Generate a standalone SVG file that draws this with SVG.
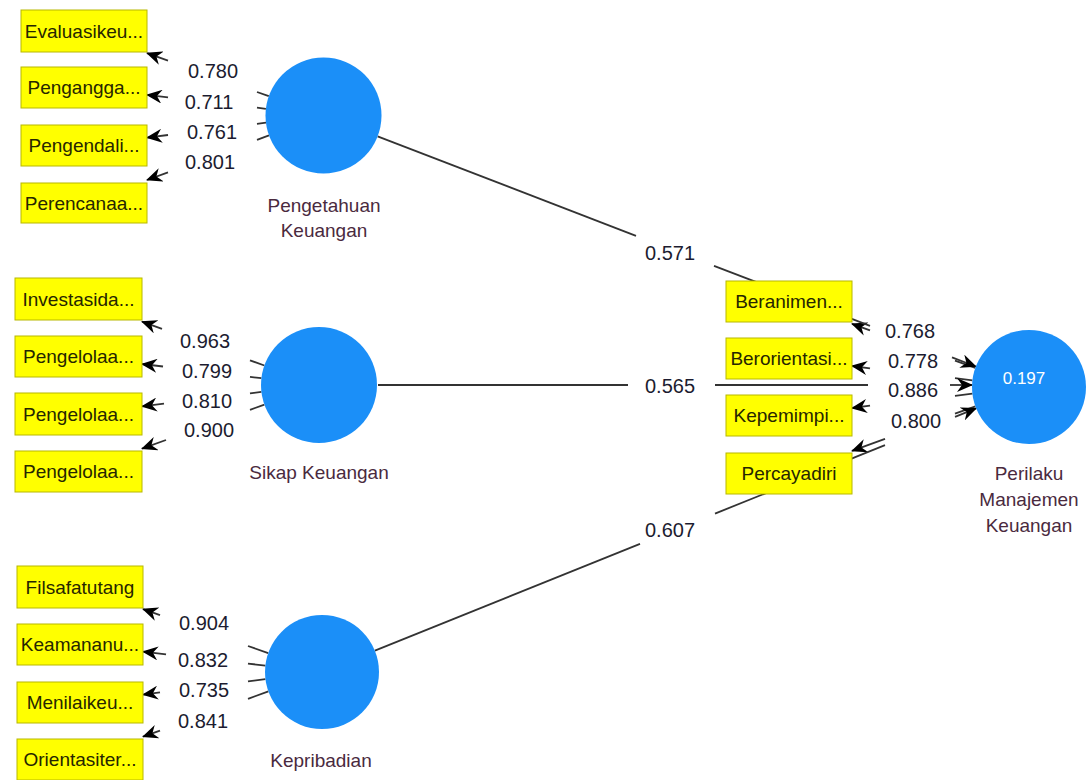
<svg xmlns="http://www.w3.org/2000/svg" width="1086" height="780" viewBox="0 0 1086 780">
<defs>
<marker id="arr" viewBox="0 0 16 14" refX="15" refY="7" markerWidth="16" markerHeight="14" markerUnits="userSpaceOnUse" orient="auto">
<path d="M0,0 L16,7 L0,14 L5,7 z" fill="#000"/>
</marker>
<style>
.ln{stroke:#333333;stroke-width:1.8;fill:none}
.ar{stroke:#333333;stroke-width:1.8;fill:none;marker-end:url(#arr)}
.box{fill:#ffff00;stroke:#b8b800;stroke-width:1}
.bt{font-family:"Liberation Sans",Arial,sans-serif;font-size:19px;fill:#262600;text-anchor:middle}
.lv{fill:#1b8ff8}
.lt{font-family:"Liberation Sans",Arial,sans-serif;font-size:19px;fill:#4a2a3e;text-anchor:middle}
.num{font-family:"Liberation Sans",Arial,sans-serif;font-size:20px;fill:#1c1c30;text-anchor:middle}
.val{font-family:"Liberation Sans",Arial,sans-serif;font-size:17px;fill:#ffffff;text-anchor:middle}
</style>
</defs>
<rect width="1086" height="780" fill="#ffffff"/>
<g id="connectors">
<!-- Pengetahuan Keuangan indicators -->
<line class="ar" x1="168" y1="60.6" x2="147" y2="53.2"/><line class="ln" x1="257" y1="92" x2="268.8" y2="96.2"/>
<line class="ar" x1="168" y1="97.3" x2="147" y2="94.9"/><line class="ln" x1="257" y1="107.7" x2="265.9" y2="108.8"/>
<line class="ar" x1="168" y1="135" x2="147" y2="137.6"/><line class="ln" x1="257" y1="123.8" x2="266" y2="122.7"/>
<line class="ar" x1="168" y1="172.3" x2="147" y2="180"/><line class="ln" x1="257" y1="139.8" x2="269" y2="135.4"/>
<!-- Sikap Keuangan indicators -->
<line class="ar" x1="162" y1="328.9" x2="142" y2="321.7"/><line class="ln" x1="250" y1="360.3" x2="264.4" y2="365.5"/>
<line class="ar" x1="163" y1="366.5" x2="142" y2="364"/><line class="ln" x1="250" y1="376.8" x2="261.4" y2="378.2"/>
<line class="ar" x1="164" y1="403.7" x2="142" y2="406.3"/><line class="ln" x1="250" y1="393.3" x2="261.4" y2="391.9"/>
<line class="ar" x1="166" y1="440" x2="142" y2="448.7"/><line class="ln" x1="250" y1="409.8" x2="264.4" y2="404.6"/>
<!-- Kepribadian indicators -->
<line class="ar" x1="160" y1="615.1" x2="143" y2="609.1"/><line class="ln" x1="248" y1="646" x2="268.2" y2="653.1"/>
<line class="ar" x1="166" y1="654.3" x2="143" y2="651.7"/><line class="ln" x1="248" y1="663.6" x2="265.4" y2="665.6"/>
<line class="ar" x1="160" y1="692.4" x2="143" y2="694.6"/><line class="ln" x1="248" y1="681.3" x2="265.4" y2="679.1"/>
<line class="ar" x1="160" y1="730.6" x2="143" y2="736.7"/><line class="ln" x1="248" y1="698.8" x2="268.4" y2="691.4"/>
<!-- Perilaku indicators -->
<line class="ar" x1="870" y1="330.4" x2="852" y2="323.9"/><line class="ln" x1="955" y1="360.6" x2="975.3" y2="367.8"/>
<line class="ar" x1="870" y1="368.4" x2="852" y2="366"/><line class="ln" x1="955" y1="378.2" x2="972.4" y2="380.3"/>
<line class="ar" x1="870" y1="405.6" x2="852" y2="408"/><line class="ln" x1="955" y1="395.8" x2="972.4" y2="393.7"/>
<line class="ar" x1="885" y1="438.9" x2="852" y2="450.8"/><line class="ln" x1="955" y1="413.7" x2="975.4" y2="406.3"/>
<!-- structural paths -->
<line class="ln" x1="377.6" y1="136.3" x2="636" y2="235.8"/><line class="ln" x1="714" y1="265.8" x2="870" y2="325.8"/><line class="ar" x1="952" y1="357.4" x2="975.8" y2="366.5"/>
<line class="ln" x1="378" y1="385" x2="628" y2="385"/><line class="ln" x1="715" y1="385" x2="868" y2="385"/><line class="ar" x1="950" y1="385" x2="972" y2="385"/>
<line class="ln" x1="374.9" y1="650.7" x2="640" y2="543.8"/><line class="ln" x1="715" y1="513.6" x2="885" y2="445.1"/><line class="ar" x1="955" y1="416.8" x2="976.1" y2="408.3"/>
</g>
<g id="labels">
<text class="num" x="213" y="78">0.780</text>
<text class="num" x="209" y="109">0.711</text>
<text class="num" x="212" y="139">0.761</text>
<text class="num" x="210" y="169">0.801</text>
<text class="num" x="205" y="348">0.963</text>
<text class="num" x="207" y="378">0.799</text>
<text class="num" x="207" y="408">0.810</text>
<text class="num" x="209" y="437">0.900</text>
<text class="num" x="204" y="630">0.904</text>
<text class="num" x="203" y="667">0.832</text>
<text class="num" x="204" y="697">0.735</text>
<text class="num" x="203" y="728">0.841</text>
<text class="num" x="910" y="338">0.768</text>
<text class="num" x="913" y="368">0.778</text>
<text class="num" x="913" y="397">0.886</text>
<text class="num" x="916" y="428">0.800</text>
<text class="num" x="670" y="260">0.571</text>
<text class="num" x="670" y="393">0.565</text>
<text class="num" x="670" y="537">0.607</text>
</g>
<g id="pengetahuan-keuangan">
<circle class="lv" cx="323.5" cy="115.5" r="58"/>
<text class="lt" x="324" y="212">Pengetahuan</text>
<text class="lt" x="324" y="237">Keuangan</text>
</g>
<g id="sikap-keuangan">
<circle class="lv" cx="319" cy="385" r="58"/>
<text class="lt" x="319" y="479">Sikap Keuangan</text>
</g>
<g id="kepribadian">
<circle class="lv" cx="322" cy="672" r="57"/>
<text class="lt" x="321" y="767">Kepribadian</text>
</g>
<g id="perilaku-manajemen-keuangan">
<circle class="lv" cx="1029" cy="387" r="57"/>
<text class="val" x="1024" y="384">0.197</text>
<text class="lt" x="1029" y="480">Perilaku</text>
<text class="lt" x="1029" y="506">Manajemen</text>
<text class="lt" x="1029" y="532">Keuangan</text>
</g>
<g id="ind-evaluasikeu"><rect class="box" x="21" y="10" width="126" height="42"/><text class="bt" x="84" y="38">Evaluasikeu...</text></g>
<g id="ind-pengangga"><rect class="box" x="21" y="67" width="126" height="41"/><text class="bt" x="84" y="94">Pengangga...</text></g>
<g id="ind-pengendali"><rect class="box" x="21" y="125" width="126" height="41"/><text class="bt" x="84" y="152">Pengendali...</text></g>
<g id="ind-perencanaa"><rect class="box" x="21" y="183" width="126" height="40"/><text class="bt" x="84" y="210">Perencanaa...</text></g>
<g id="ind-investasida"><rect class="box" x="15" y="278" width="127" height="42"/><text class="bt" x="78.5" y="306">Investasida...</text></g>
<g id="ind-pengelolaa1"><rect class="box" x="15" y="336" width="127" height="41"/><text class="bt" x="78.5" y="363">Pengelolaa...</text></g>
<g id="ind-pengelolaa2"><rect class="box" x="15" y="393" width="127" height="42"/><text class="bt" x="78.5" y="421">Pengelolaa...</text></g>
<g id="ind-pengelolaa3"><rect class="box" x="15" y="451" width="127" height="41"/><text class="bt" x="78.5" y="478">Pengelolaa...</text></g>
<g id="ind-filsafatutang"><rect class="box" x="17" y="566" width="126" height="42"/><text class="bt" x="80" y="594">Filsafatutang</text></g>
<g id="ind-keamananu"><rect class="box" x="17" y="624" width="126" height="41"/><text class="bt" x="80" y="651">Keamananu...</text></g>
<g id="ind-menilaikeu"><rect class="box" x="17" y="682" width="126" height="41"/><text class="bt" x="80" y="709">Menilaikeu...</text></g>
<g id="ind-orientasiter"><rect class="box" x="17" y="739" width="126" height="41"/><text class="bt" x="80" y="766">Orientasiter...</text></g>
<g id="ind-beranimen"><rect class="box" x="726" y="281" width="126" height="41"/><text class="bt" x="789" y="308">Beranimen...</text></g>
<g id="ind-berorientasi"><rect class="box" x="726" y="338" width="126" height="41"/><text class="bt" x="789" y="365">Berorientasi...</text></g>
<g id="ind-kepemimpi"><rect class="box" x="726" y="395" width="126" height="41"/><text class="bt" x="789" y="422">Kepemimpi...</text></g>
<g id="ind-percayadiri"><rect class="box" x="726" y="453" width="126" height="41"/><text class="bt" x="789" y="480">Percayadiri</text></g>
</svg>
